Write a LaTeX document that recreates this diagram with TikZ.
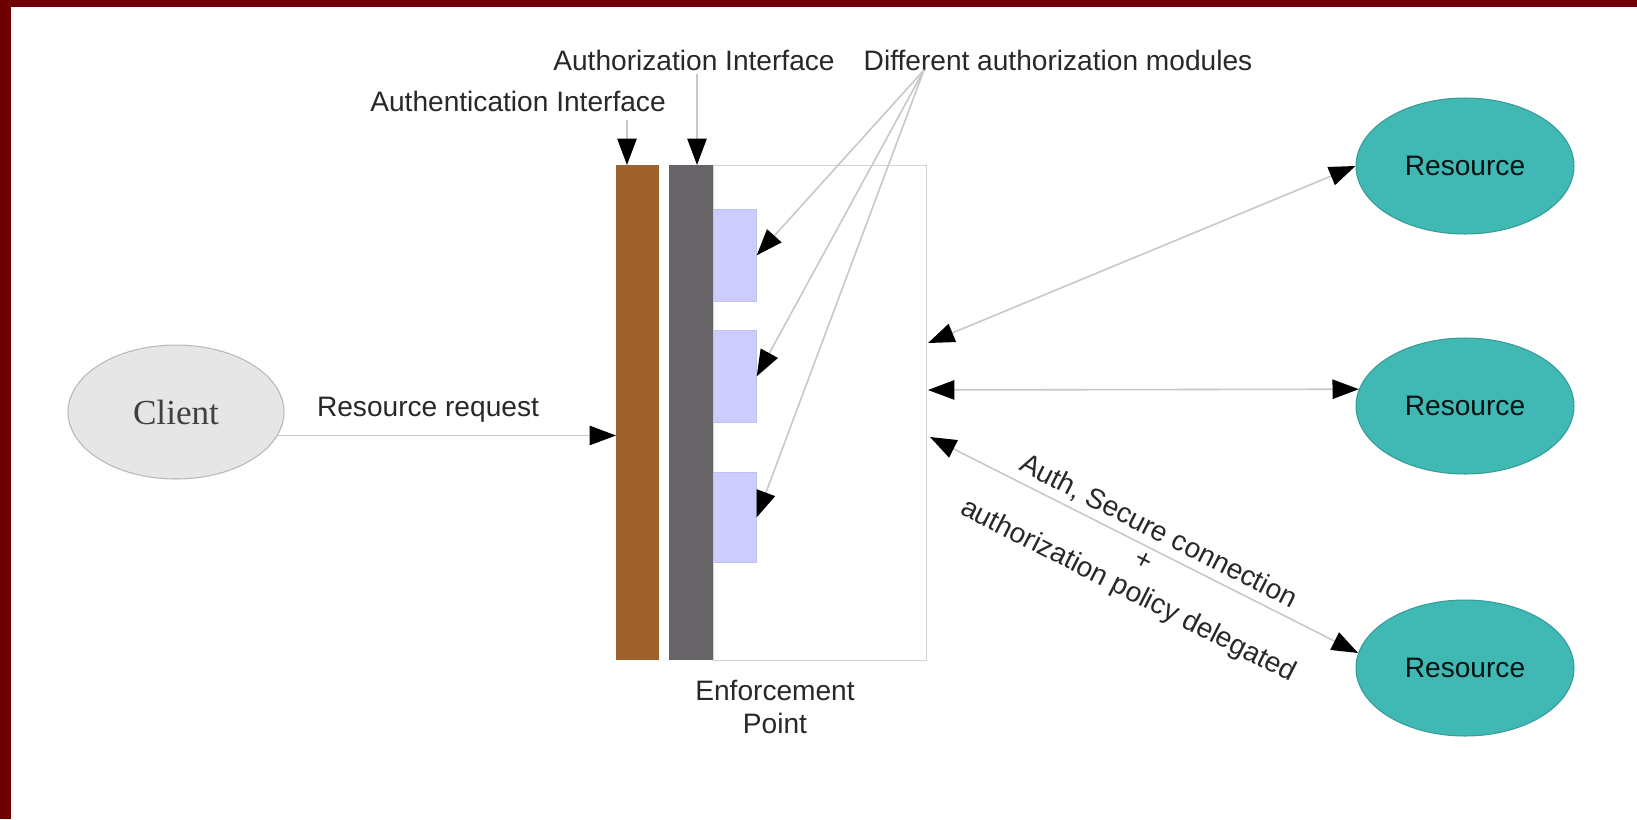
\documentclass[tikz,border=0pt]{standalone}
\usepackage{fontspec}
\setmainfont{Liberation Sans}
\newfontfamily\clientfont{Liberation Serif}
\usetikzlibrary{shapes.geometric,arrows.meta}
\definecolor{maroonbd}{RGB}{112,0,0}
\definecolor{brownbar}{RGB}{160,98,45}
\definecolor{graybar}{RGB}{103,100,104}
\definecolor{modfill}{RGB}{204,204,255}
\definecolor{tealres}{RGB}{64,184,180}
\definecolor{clientfill}{RGB}{230,230,230}
\definecolor{linegray}{RGB}{200,200,200}
\definecolor{boxgray}{RGB}{210,210,210}
\definecolor{txt}{RGB}{40,40,40}
\begin{document}
\begin{tikzpicture}[x=0.02cm,y=-0.02cm,
  lbl/.style={font=\fontsize{16pt}{18.7pt}\selectfont, text=txt, inner sep=0pt, align=center},
  conn/.style={draw=linegray, line width=0.9pt},
  tipend/.style={-{Triangle[length=15pt,width=11pt,color=black]}},
  tipboth/.style={{Triangle[length=15pt,width=11pt,color=black]}-{Triangle[length=15pt,width=11pt,color=black]}},
  res/.style={ellipse, fill=tealres, draw=tealres!85!black, line width=0.6pt,
    minimum width=4.36cm, minimum height=2.72cm, inner sep=0pt,
    font=\fontsize{16pt}{18pt}\selectfont, text=black!85!teal},
  barbox/.style={rectangle, anchor=north west, inner sep=0pt, minimum height=9.9cm},
  modbox/.style={rectangle, anchor=north west, inner sep=0pt, fill=modfill, draw=modfill!85!gray, line width=0.4pt, minimum width=0.86cm}
]
\useasboundingbox (0,0) rectangle (1637,819);
\fill[white] (0,0) rectangle (1637,819);
% border
\fill[maroonbd] (0,0) rectangle (1637,7);
\fill[maroonbd] (0,0) rectangle (11,819);

% enforcement point box and bars
\node[barbox, draw=boxgray, line width=0.8pt, minimum width=4.26cm] (box) at (713,165) {};
\node[barbox, fill=brownbar, minimum width=0.86cm] (authn) at (616,165) {};
\node[barbox, fill=graybar, minimum width=0.88cm] (authz) at (669,165) {};
\node[modbox, minimum height=1.84cm] (m1) at (713,209) {};
\node[modbox, minimum height=1.84cm] (m2) at (713,330) {};
\node[modbox, minimum height=1.80cm] (m3) at (713,472) {};

% client
\node[ellipse, fill=clientfill, draw=gray!55, line width=0.6pt, minimum width=4.32cm, minimum height=2.68cm,
  inner sep=0pt, font=\clientfont\fontsize{20pt}{24pt}\selectfont, text=black!75] (client) at (176,412) {Client};

% resources
\node[res] (res1) at (1465,166) {Resource};
\node[res] (res2) at (1465,406) {Resource};
\node[res] (res3) at (1465,668) {Resource};

% labels
\node[lbl] (authnlbl) at (518,101) {Authentication Interface};
\node[lbl] (authzlbl) at (694,60) {Authorization Interface};
\node[lbl] (damlbl) at (1058,60) {Different authorization modules};
\node[lbl] (rrlbl) at (428,410) {Resource request};
\node[lbl] (eplbl) at (775,707) {Enforcement\\Point};

% resource request
\draw[conn,tipend] (client.-13) -- (client.-13 -| authn.west);

% interface arrows
\coordinate (a1) at (627,120);
\coordinate (a2) at (697,74);
\draw[conn,tipend] (a1) -- (a1 |- authn.north);
\draw[conn,tipend] (a2) -- (a2 |- authz.north);

% module arrows
\coordinate (dam) at (924,70);
\draw[conn,tipend] (dam) -- (m1.east);
\draw[conn,tipend] (dam) -- (m2.east);
\draw[conn,tipend] (dam) -- (m3.east);

% enforcement point to resources
\coordinate (ep1) at (928,343);
\coordinate (ep2) at (928,390);
\coordinate (ep3) at (930,437);
\draw[conn,tipboth] (ep1) -- (res1.west);
\draw[conn,tipboth] (ep2) -- (res2.171);
\draw[conn,tipboth] (ep3) -- (res3.172);

\node[lbl, rotate=-26.9] (diaglbl) at (1143,562) {Auth, Secure connection\\+\\authorization policy delegated};
\end{tikzpicture}
\end{document}
